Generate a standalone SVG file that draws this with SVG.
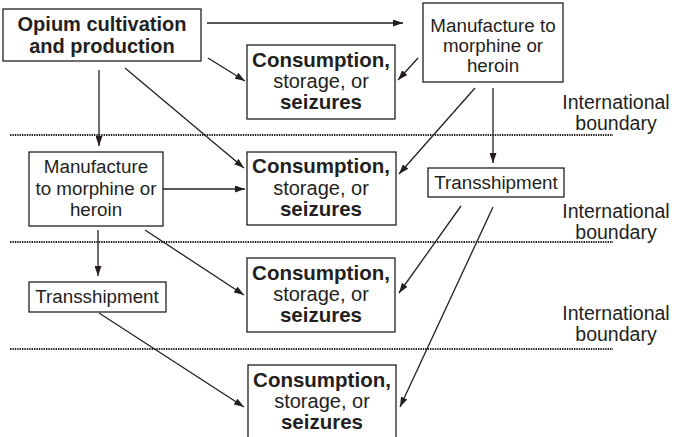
<svg xmlns="http://www.w3.org/2000/svg" width="680" height="437" viewBox="0 0 680 437">
<style>
text{font-family:"Liberation Sans",Arial,Helvetica,sans-serif;fill:#231f20;text-anchor:middle}
.b{font-weight:bold;font-size:20.5px}
.o{font-weight:bold;font-size:20px}
.r{font-size:20px}
.l{font-size:19.5px}
.m{font-size:18.8px}
.box{fill:#fff;stroke:#231f20;stroke-width:1.3}
.dot{stroke:#231f20;stroke-width:2;stroke-dasharray:1.4 1}
.c line{stroke:#231f20;stroke-width:1.3;marker-end:url(#ah)}
</style>
<defs>
<marker id="ah" viewBox="0 0 10 7" refX="10" refY="3.5" markerWidth="10" markerHeight="7" markerUnits="userSpaceOnUse" orient="auto">
<path d="M0,0 L10,3.5 L0,7 z" fill="#231f20"/>
</marker>
</defs>
<rect width="680" height="437" fill="#fff"/>
<g id="boundaries">
<line class="dot" x1="10" y1="135" x2="613" y2="135"/>
<line class="dot" x1="10" y1="242" x2="613" y2="242"/>
<line class="dot" x1="10" y1="349" x2="613" y2="349"/>
<text class="l" x="616" y="109">International</text>
<text class="l" x="616" y="130">boundary</text>
<text class="l" x="616" y="218">International</text>
<text class="l" x="616" y="239">boundary</text>
<text class="l" x="616" y="320">International</text>
<text class="l" x="616" y="341">boundary</text>
</g>
<g id="opium">
<rect class="box" x="3" y="9" width="198" height="52"/>
<text class="o" x="102" y="31">Opium cultivation</text>
<text class="o" x="102" y="53">and production</text>
</g>
<g id="manufacture1">
<rect class="box" x="423" y="3" width="140" height="79"/>
<text class="m" x="493" y="32">Manufacture to</text>
<text class="m" x="493" y="52">morphine or</text>
<text class="m" x="493" y="72">heroin</text>
</g>
<g id="consumption1">
<rect class="box" x="247" y="45" width="148" height="74"/>
<text class="b" x="321" y="67">Consumption,</text>
<text class="r" x="321" y="88">storage, or</text>
<text class="b" x="321" y="109">seizures</text>
</g>
<g id="manufacture2">
<rect class="box" x="29" y="152" width="134" height="74"/>
<text class="m" x="96" y="173">Manufacture</text>
<text class="m" x="96" y="195">to morphine or</text>
<text class="m" x="96" y="216">heroin</text>
</g>
<g id="consumption2">
<rect class="box" x="247" y="152" width="149" height="73"/>
<text class="b" x="321" y="173">Consumption,</text>
<text class="r" x="321" y="195">storage, or</text>
<text class="b" x="321" y="216">seizures</text>
</g>
<g id="transshipment1">
<rect class="box" x="428" y="168" width="136" height="29"/>
<text class="m" x="496" y="189">Transshipment</text>
</g>
<g id="transshipment2">
<rect class="box" x="29" y="282" width="137" height="30"/>
<text class="m" x="97" y="303">Transshipment</text>
</g>
<g id="consumption3">
<rect class="box" x="247" y="258" width="148" height="74"/>
<text class="b" x="321" y="280">Consumption,</text>
<text class="r" x="321" y="301">storage, or</text>
<text class="b" x="321" y="322">seizures</text>
</g>
<g id="consumption4">
<rect class="box" x="248" y="365" width="148" height="80"/>
<text class="b" x="322" y="387">Consumption,</text>
<text class="r" x="322" y="408">storage, or</text>
<text class="b" x="322" y="429">seizures</text>
</g>
<g id="connectors" class="c">
<line x1="207" y1="23" x2="403" y2="23"/>
<line x1="208" y1="58" x2="245" y2="81"/>
<line x1="99" y1="70" x2="99" y2="146"/>
<line x1="125" y1="68" x2="244" y2="168"/>
<line x1="418" y1="58" x2="398" y2="80"/>
<line x1="475" y1="88" x2="399" y2="174"/>
<line x1="493" y1="88" x2="493" y2="163"/>
<line x1="163" y1="189" x2="245" y2="189"/>
<line x1="98" y1="230" x2="98" y2="276"/>
<line x1="145" y1="230" x2="244" y2="295"/>
<line x1="461" y1="206" x2="399" y2="293"/>
<line x1="493" y1="207" x2="400" y2="407"/>
<line x1="99" y1="313" x2="244" y2="407"/>
</g>
</svg>
